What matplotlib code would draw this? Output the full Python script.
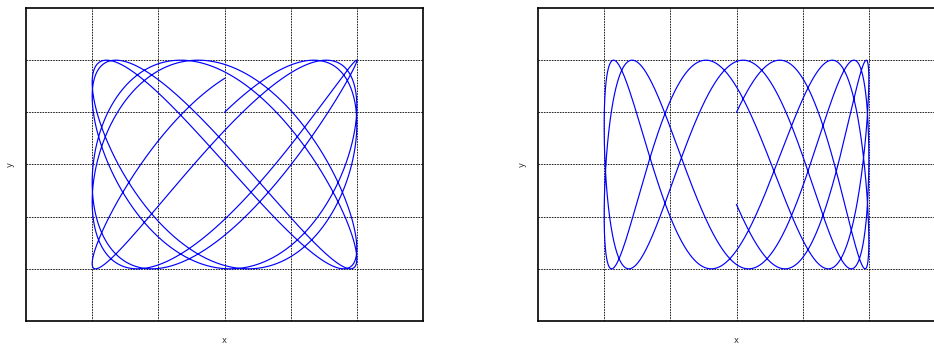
import numpy as np
import matplotlib
matplotlib.use('Agg')
import matplotlib.pyplot as plt

# Curve parameters: x = sin(t), y = sin(ratio * t + phase)
ratios = [np.sqrt(2), np.pi]          # y frequency relative to x
phases = [np.pi / 6, np.pi / 6]       # both curves start at (0, 0.5)
t_ends = [10 * np.pi, 5 * np.pi]      # both curves end back on x = 0
grid_ticks = [-1.0, -0.5, 0.0, 0.5, 1.0]
limits = [-1.5, 1.5]

fig = plt.figure(figsize=(9.34, 3.45), dpi=100)
ax_left = fig.add_axes([26 / 934, 24 / 345, 397 / 934, 313 / 345])
ax_right = fig.add_axes([538 / 934, 24 / 345, 397 / 934, 313 / 345])

for ax, ratio, phase, t_end in zip([ax_left, ax_right], ratios, phases, t_ends):
    t = np.linspace(0, t_end, 6000)
    ax.plot(np.sin(t), np.sin(ratio * t + phase), color='#0000ff', linewidth=0.85)

    ax.set_xlim(limits)
    ax.set_ylim(limits)
    ax.set_xticks(grid_ticks)
    ax.set_yticks(grid_ticks)
    ax.set_xticklabels([])
    ax.set_yticklabels([])
    ax.tick_params(length=0)
    ax.grid(True, color='black', linestyle=(0, (2, 1.2)), linewidth=0.6)
    for spine in ax.spines.values():
        spine.set_linewidth(1.2)

    # Axis labels
    ax.set_xlabel('x', fontsize=6, color='#333333')
    ax.set_ylabel('y', fontsize=6, color='#333333')
    ax.xaxis.set_label_coords(0.5, -15 / 313)
    ax.yaxis.set_label_coords(-11 / 397, 0.5)

plt.savefig('out.png', dpi=100)
